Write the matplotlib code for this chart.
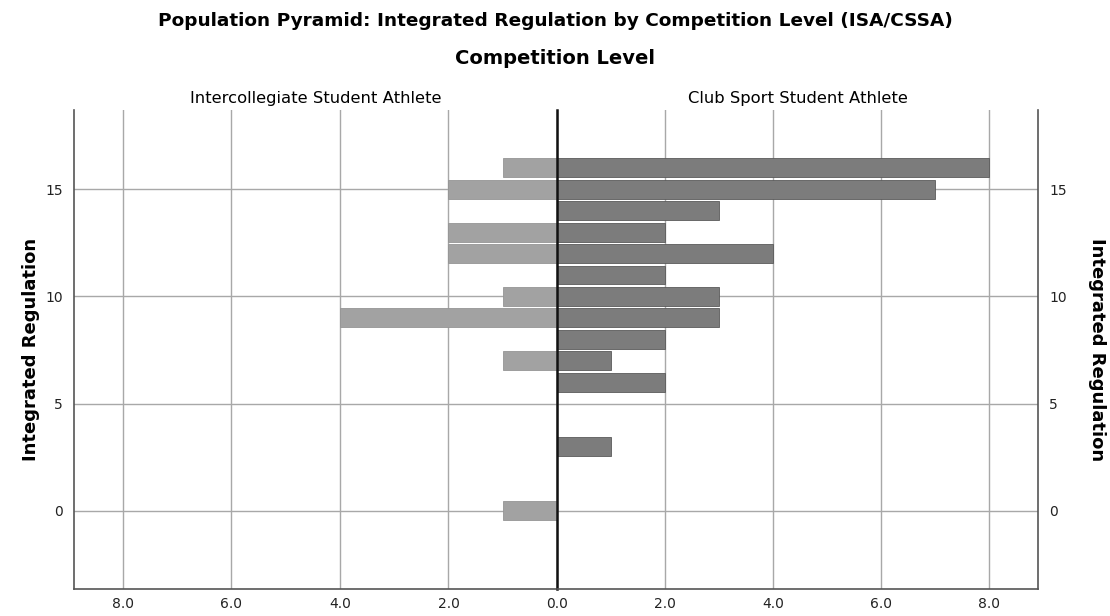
import matplotlib
matplotlib.use("Agg")
import matplotlib.pyplot as plt

# ── Data ──────────────────────────────────────────────────────────────────────
isa_levels = [16, 15, 13, 12, 10, 9, 7, 0]
isa_counts = [1, 2, 2, 2, 1, 4, 1, 1]

cssa_levels = [16, 15, 14, 13, 12, 11, 10, 9, 8, 7, 6, 3]
cssa_counts = [8, 7, 3, 2, 4, 2, 3, 3, 2, 1, 2, 1]

x_ticks = [0, 2, 4, 6, 8]
y_ticks = [0, 5, 10, 15]

LIGHT = "#a2a2a2"
DARK = "#7c7c7c"
GRID = "#a8a8a8"
SPINE = "#555555"

# ── Layout ────────────────────────────────────────────────────────────────────
fig = plt.figure(figsize=(11.1, 6.16), dpi=100)
ax_l = fig.add_axes([74 / 1110, 1 - 589 / 616, (557 - 74) / 1110, (589 - 110) / 616])
ax_r = fig.add_axes([557 / 1110, 1 - 589 / 616, (1038 - 557) / 1110, (589 - 110) / 616])

XMAX = 8.9
YLIM = (-3.65, 18.7)

for ax in (ax_l, ax_r):
    ax.set_ylim(*YLIM)
    ax.set_yticks(y_ticks)
    ax.set_xticks(x_ticks)
    ax.set_axisbelow(True)
    ax.grid(True, color=GRID, linewidth=1)
    ax.spines["top"].set_visible(False)
    ax.tick_params(length=0, labelsize=10, colors="#222222", pad=6)
    for s in ax.spines.values():
        s.set_color(SPINE)
        s.set_linewidth(1.2)

# only one "0.0" under the centre line
ax_l.set_xticklabels(["" if v == 0 else f"{v:.1f}" for v in x_ticks])
ax_r.set_xticklabels([f"{v:.1f}" for v in x_ticks])

# left panel (mirrored)
ax_l.barh(isa_levels, isa_counts, height=0.88, color=LIGHT,
          edgecolor="#959595", linewidth=0.6)
ax_l.set_xlim(XMAX, 0)
ax_l.spines["right"].set_visible(False)
ax_l.tick_params(axis="y", pad=8)

# right panel
ax_r.barh(cssa_levels, cssa_counts, height=0.88, color=DARK,
          edgecolor="#5a5a5a", linewidth=0.6)
ax_r.set_xlim(0, XMAX)
ax_r.spines["left"].set_color("#111111")
ax_r.spines["left"].set_linewidth(1.8)
ax_r.yaxis.tick_right()
ax_r.tick_params(axis="y", pad=8)

ax_l.set_ylabel("Integrated Regulation", fontsize=13, fontweight="bold", labelpad=4)
ax_r.yaxis.set_label_position("right")
ax_r.set_ylabel("Integrated Regulation", fontsize=13, fontweight="bold",
                rotation=-90, labelpad=28)

ax_l.set_title("Intercollegiate Student Athlete", fontsize=11.8, pad=5)
ax_r.set_title("Club Sport Student Athlete", fontsize=11.8, pad=5)

fig.text(0.5, 1 - 21 / 616,
         "Population Pyramid: Integrated Regulation by Competition Level (ISA/CSSA)",
         ha="center", va="center", fontsize=13.3, fontweight="bold")
fig.text(0.5, 1 - 58 / 616, "Competition Level", ha="center", va="center",
         fontsize=14, fontweight="bold")

fig.savefig("out.png", dpi=100)
